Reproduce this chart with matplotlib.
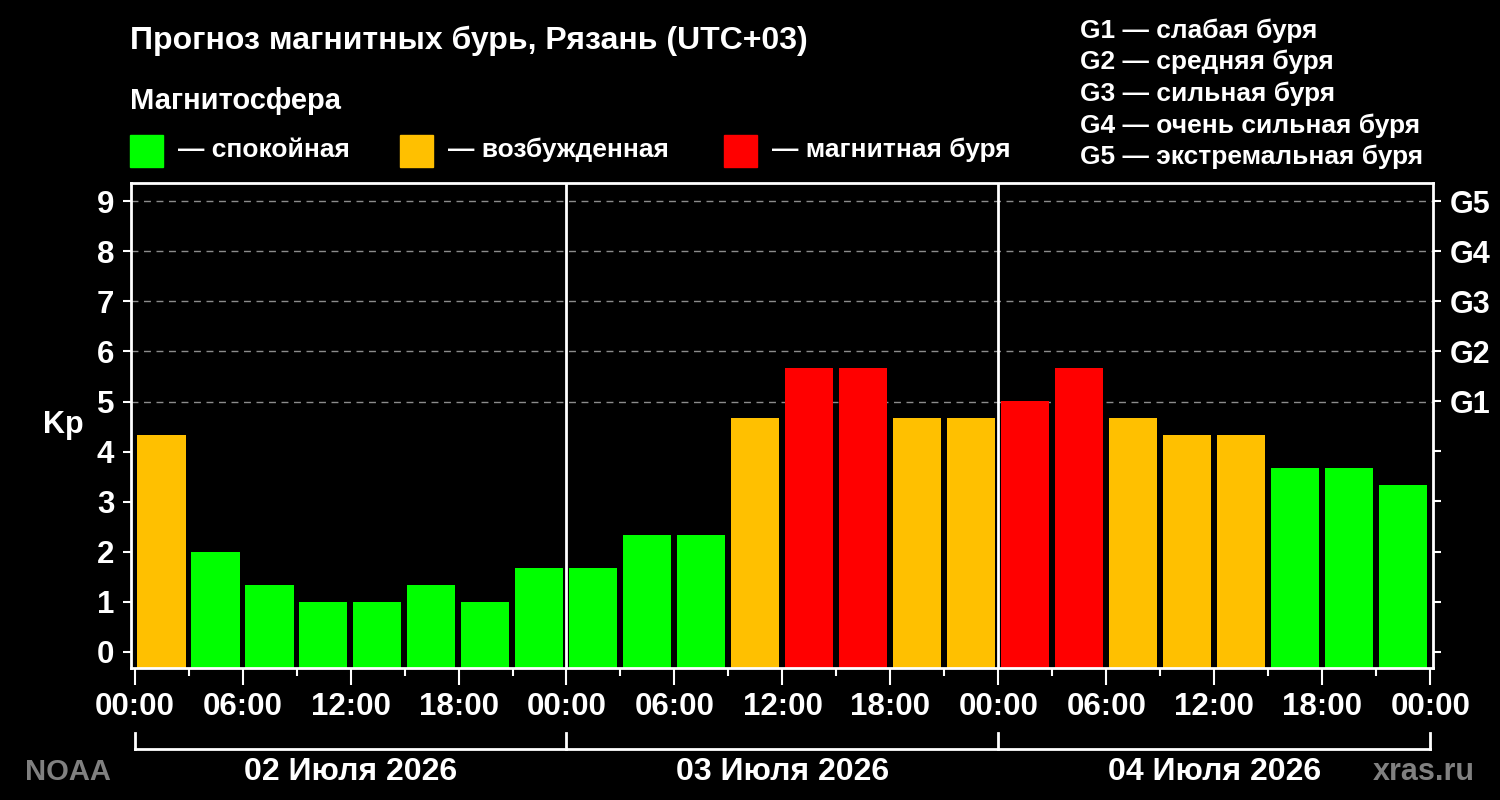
import numpy as np
import matplotlib.pyplot as plt
from matplotlib.patches import Rectangle

plt.rcParams['font.family'] = ['Liberation Sans', 'DejaVu Sans']
plt.rcParams['font.weight'] = 'bold'

# данные прогноза (Kp по трёхчасовым интервалам)
slot_start = list(range(0, 72, 3))
kp = [4.33, 2.0, 1.33, 1.0, 1.0, 1.33, 1.0, 1.67,
      1.67, 2.33, 2.33, 4.67, 5.67, 5.67, 4.67, 4.67,
      5.0, 5.67, 4.67, 4.33, 4.33, 3.67, 3.67, 3.33]
days = ['02 Июля 2026', '03 Июля 2026', '04 Июля 2026']
time_labels = ['00:00', '06:00', '12:00', '18:00'] * 3 + ['00:00']
g_levels = [5, 6, 7, 8, 9]
g_labels = ['G1', 'G2', 'G3', 'G4', 'G5']
g_desc = ['слабая буря', 'средняя буря', 'сильная буря',
          'очень сильная буря', 'экстремальная буря']
states = ['— спокойная', '— возбужденная', '— магнитная буря']
state_colors = ['#00ff00', '#ffc000', '#ff0000']

W, H = 1500, 800


def px(x, y):
    return x / W, 1 - y / H


def kp_color(v):
    if v >= 5:
        return state_colors[2]
    if v >= 4:
        return state_colors[1]
    return state_colors[0]


fig = plt.figure(figsize=(15, 8), dpi=100, facecolor='black')
ax = fig.add_axes([131 / W, 1 - 668 / H, (1433 - 131) / W, (668 - 183) / H])
ax.set_facecolor('black')

ymin, ymax = -0.33, 9.37
ax.set_xlim(-0.2, 72.15)
ax.set_ylim(ymin, ymax)

centers = np.array(slot_start) + 1.49
heights = np.array(kp) - ymin
ax.bar(centers, heights, bottom=ymin, width=2.68,
       color=[kp_color(v) for v in kp], zorder=2)

# пунктирные линии уровней G
for lv in g_levels:
    ax.axhline(lv, color='#8c8c8c', lw=1, ls=(0, (5, 4)), zorder=1)

# разделители суток
for d in range(1, len(days)):
    ax.axvline(24 * d, color='white', lw=2, zorder=3)

for s in ax.spines.values():
    s.set_color('white')
    s.set_linewidth(2)

ax.set_yticks(range(10))
ax.tick_params(axis='y', colors='white', labelcolor='white', labelsize=22.5,
               length=6, width=1.5, pad=6)
ax.set_xticks(range(0, 73, 6))
ax.set_xticklabels(time_labels)
ax.set_xticks(range(3, 72, 6), minor=True)
ax.tick_params(axis='x', which='major', colors='white', labelcolor='white',
               labelsize=22.5, length=12, width=1.5, pad=5)
ax.tick_params(axis='x', which='minor', colors='white', length=6, width=1.5)

ax2 = ax.twinx()
ax2.set_ylim(ymin, ymax)
ax2.set_yticks(range(10))
ax2.set_yticklabels([''] * 5 + g_labels)
ax2.tick_params(axis='y', colors='white', labelcolor='white', labelsize=22,
                length=6, width=1.5, pad=6)
for s in ax2.spines.values():
    s.set_visible(False)

ax.text(-0.052, 0.5, 'Kp', transform=ax.transAxes, color='white',
        fontsize=22, ha='center', va='center')

# скобки дат под осью
tr = ax.get_xaxis_transform()
y_br = (668 - 749) / (668 - 183)
y_tk = (668 - 733) / (668 - 183)
ax.plot([0, 72], [y_br, y_br], color='white', lw=2, transform=tr, clip_on=False)
for d in range(len(days) + 1):
    ax.plot([24 * d, 24 * d], [y_br, y_tk], color='white', lw=2,
            transform=tr, clip_on=False)
y_dt = (668 - 780) / (668 - 183)
for i, day in enumerate(days):
    ax.text(24 * i + 12, y_dt, day, transform=tr, color='white',
            fontsize=23, ha='center', va='baseline')

fig.text(*px(25, 780), 'NOAA', color='#808080', fontsize=21, va='baseline')
fig.text(*px(1475, 780), 'xras.ru', color='#808080', fontsize=22,
         ha='right', va='baseline')

# заголовок и легенда
fig.text(*px(130, 49), 'Прогноз магнитных бурь, Рязань (UTC+03)',
         color='white', fontsize=23, va='baseline')
fig.text(*px(130, 109), 'Магнитосфера', color='white', fontsize=21,
         va='baseline')
sq_x = [130, 400, 724]
for x0, lab, c in zip(sq_x, states, state_colors):
    fig.patches.append(Rectangle(px(x0, 167), 33 / W, 32 / H,
                                 transform=fig.transFigure, color=c))
    fig.text(*px(x0 + 48, 157), lab, color='white', fontsize=19,
             va='baseline')

for i, (g, desc) in enumerate(zip(g_labels, g_desc)):
    fig.text(*px(1080, 37.7 + 31.6 * i), g + ' — ' + desc, color='white',
             fontsize=19, va='baseline')

fig.savefig('out.png', dpi=100, facecolor='black')
